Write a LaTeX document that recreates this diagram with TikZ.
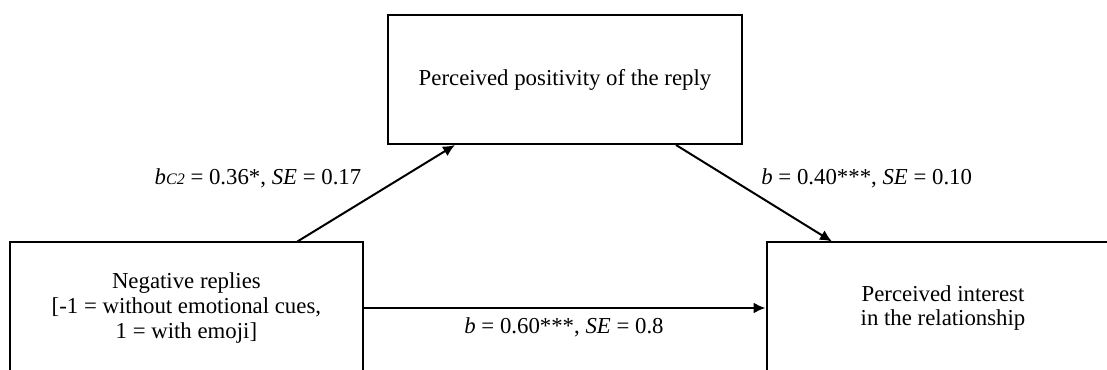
\documentclass[tikz,border=0pt]{standalone}
\usepackage{fontspec}
\setmainfont{Liberation Serif}
\usetikzlibrary{arrows.meta}

\begin{document}
\begin{tikzpicture}[x=0.5pt, y=0.5pt, every node/.style={font=\fontsize{11.4}{12.3}\selectfont}, >={Latex[length=6pt, width=5.5pt]},
	box/.style={draw, line width=1pt, align=center, minimum width=176.5pt, minimum height=65.5pt, inner sep=0pt},
	arr/.style={->, line width=1pt}]
	\useasboundingbox (0,0) rectangle (1107,369);
	\clip (0,0) rectangle (1107,369);
	\node[box, minimum width=177pt, minimum height=64.5pt] (pos) at (565,289.5) {Perceived positivity of the reply};
	\node[box] (neg) at (186.4,61) {Negative replies\\ {[}-1 = without emotional cues,\\ 1 = with emoji{]}};
	\node[box] (intr) at (943,61) {Perceived interest\\ in the relationship};
	\draw[arr] ([xshift=55.5pt]neg.north) -- ([xshift=-55pt]pos.south);
	\draw[arr] ([xshift=55.5pt]pos.south) -- ([xshift=-55.5pt]intr.north);
	\draw[arr] (neg.east) -- (intr.west);
	\node[anchor=base] (la) at (258,184) {\textit{b}{\fontsize{8}{9}\selectfont\textit{C2}} = 0.36*, \textit{SE} = 0.17};
	\node[anchor=base] (lb) at (866.7,184) {\textit{b} = 0.40***, \textit{SE} = 0.10};
	\node[anchor=base] (lc) at (564,35.7) {\textit{b} = 0.60***, \textit{SE} = 0.8};
\end{tikzpicture}
\end{document}
